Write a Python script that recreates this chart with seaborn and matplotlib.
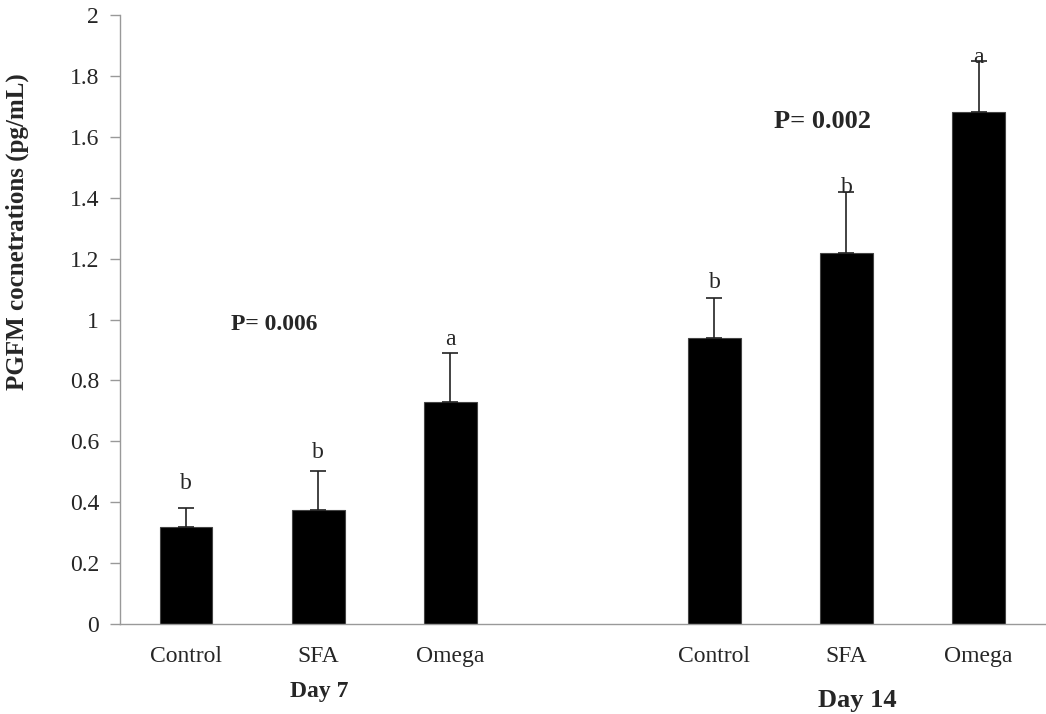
import numpy as np
import pandas as pd
import seaborn as sns
import matplotlib.pyplot as plt

sns.set_theme(style="white")
plt.rcParams['font.family'] = ['Liberation Serif', 'DejaVu Serif']

# === Data ===
slots = ["d7_Control", "d7_SFA", "d7_Omega", "gap", "d14_Control", "d14_SFA", "d14_Omega"]
tick_labels = ["Control", "SFA", "Omega", "", "Control", "SFA", "Omega"]
means = [0.32, 0.375, 0.73, np.nan, 0.94, 1.22, 1.68]
sem = [0.06, 0.128, 0.16, np.nan, 0.13, 0.20, 0.17]
letters = ["b", "b", "a", "", "b", "b", "a"]
# gap between top of the error bar and the letter (the source places them by hand)
letter_gap = [0.08, 0.06, 0.045, 0, 0.05, 0.015, 0.01]
p_texts = ["P= 0.006", "P= 0.002"]
day_labels = ["Day 7", "Day 14"]

df = pd.DataFrame({"slot": slots, "mean": means, "sem": sem})

fig = plt.figure(figsize=(10.46, 7.14), dpi=100)
ax = fig.add_axes([0.1147, 0.126, 0.884, 0.853])

sns.barplot(data=df, x="slot", y="mean", order=slots, color="black",
            width=0.4, edgecolor="#444444", linewidth=0.8, saturation=1, ax=ax)

# one-sided (upper) error bars
x = np.arange(len(slots))
ok = ~np.isnan(df["mean"].values)
ax.errorbar(x[ok], df["mean"].values[ok],
            yerr=[np.zeros(ok.sum()), df["sem"].values[ok]],
            fmt="none", ecolor="#222222", elinewidth=1.2, capsize=6, capthick=1.2)

# significance letters
for i in range(len(slots)):
    if letters[i]:
        ax.text(i, means[i] + sem[i] + letter_gap[i], letters[i], ha="center",
                va="center", fontsize=17)

ax.text(0.67, 0.982, p_texts[0], ha="center", va="center", fontsize=17, fontweight="bold")
ax.text(4.82, 1.649, p_texts[1], ha="center", va="center", fontsize=19, fontweight="bold")

ax.set_ylim(0, 2)
ax.set_xlim(-0.5, 6.5)
ax.set_yticks(np.arange(0, 2.01, 0.2))
ax.set_yticklabels(["0", "0.2", "0.4", "0.6", "0.8", "1", "1.2", "1.4", "1.6", "1.8", "2"])
ax.set_xticks(x)
ax.set_xticklabels(tick_labels)
ax.set_xticks(np.arange(-0.5, 6.6, 1), minor=True)
ax.tick_params(axis="x", which="major", length=0, pad=16, labelsize=17)
ax.tick_params(axis="x", which="minor", length=7, color="#999999", width=1)
ax.tick_params(axis="y", which="major", length=7, color="#999999", width=1,
               labelsize=17, pad=8, left=True)

for s in ["top", "right"]:
    ax.spines[s].set_visible(False)
for s in ["left", "bottom"]:
    ax.spines[s].set_color("#999999")
    ax.spines[s].set_linewidth(1)

ax.set_xlabel("")
ax.set_ylabel("PGFM cocnetrations (pg/mL)", fontsize=18, fontweight="bold")
ax.yaxis.set_label_coords(-0.098, 0.645)

fig.text(319 / 1046, 1 - 692 / 714, day_labels[0], ha="center", va="center",
         fontsize=17, fontweight="bold")
fig.text(857 / 1046, 1 - 700 / 714, day_labels[1], ha="center", va="center",
         fontsize=19, fontweight="bold")

fig.savefig("out.png", dpi=100)
